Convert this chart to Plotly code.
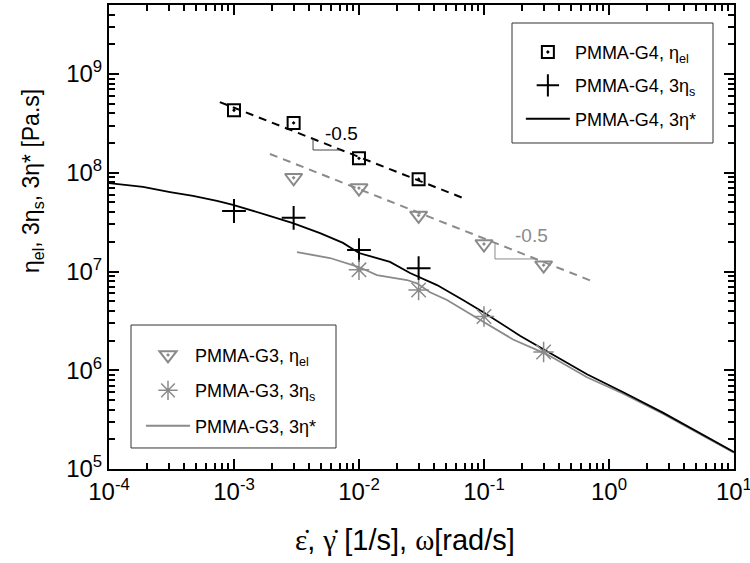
import math
import plotly.graph_objects as go

# ---------------- data ----------------
# PMMA-G4
g4_el_x = [1e-3, 3e-3, 1e-2, 3e-2]
g4_el_y = [4.3e8, 3.2e8, 1.4e8, 8.6e7]
g4_s_x = [1e-3, 3e-3, 1e-2, 3e-2]
g4_s_y = [4.1e7, 3.5e7, 1.65e7, 1.08e7]
g4_star_x = [1e-4, 1.87e-4, 3.08e-4, 4.7e-4, 7.31e-4, 9.82e-4, 1.84e-3, 2.96e-3, 4.88e-3,
             7.45e-3, 1e-2, 1.77e-2, 2.56e-2, 4.21e-2, 6.79e-2, 9.82e-2, 0.194, 0.302,
             0.667, 1.29, 2.7, 10]
g4_star_y = [7.87e7, 7.18e7, 6.38e7, 5.82e7, 5.18e7, 4.72e7, 3.73e7, 3.09e7, 2.45e7,
             1.95e7, 1.54e7, 1.25e7, 9.66e6, 7.29e6, 5.14e6, 3.89e6, 2.24e6, 1.62e6,
             9.12e5, 6.03e5, 3.72e5, 1.49e5]
g4_fit_x = [7.7e-4, 6.8e-2]
g4_fit_y = [5.2e8, 5.55e7]

# PMMA-G3
g3_el_x = [3e-3, 1e-2, 3e-2, 0.1, 0.3]
g3_el_y = [8.9e7, 7.0e7, 3.7e7, 1.9e7, 1.16e7]
g3_s_x = [1e-2, 3e-2, 0.1, 0.3]
g3_s_y = [1.04e7, 6.5e6, 3.5e6, 1.53e6]
g3_star_x = [3.19e-3, 5.86e-3, 1e-2, 1.39e-2, 2.42e-2, 2.91e-2, 3.7e-2, 5.06e-2, 8.79e-2,
             0.171, 0.319, 0.667, 1.29, 2.7, 10]
g3_star_y = [1.57e7, 1.37e7, 1.11e7, 9.2e6, 8.2e6, 7.59e6, 6.17e6, 5.14e6, 3.39e6,
             2.05e6, 1.45e6, 8.5e5, 5.82e5, 3.63e5, 1.46e5]
g3_fit_x = [1.94e-3, 0.73]
g3_fit_y = [1.55e8, 8.0e6]

# slope triangles and labels
slope_g4_x = [4.29e-3, 4.29e-3, 7.05e-3]
slope_g4_y = [2.2e8, 1.7e8, 1.7e8]
slope_g3_x = [0.1225, 0.1225, 0.265]
slope_g3_y = [1.94e7, 1.34e7, 1.34e7]
slope_label = "-0.5"
slope_g4_label_xy = (7.18e-3, 2.5e8)
slope_g3_label_xy = (0.238, 2.29e7)

# tick labels
x_tickvals = [1e-4, 1e-3, 1e-2, 1e-1, 1e0, 1e1]
x_ticktext = ["10<sup>-4</sup>", "10<sup>-3</sup>", "10<sup>-2</sup>", "10<sup>-1</sup>",
              "10<sup>0</sup>", "10<sup>1</sup>"]
y_tickvals = [1e5, 1e6, 1e7, 1e8, 1e9]
y_ticktext = ["10<sup>5</sup>", "10<sup>6</sup>", "10<sup>7</sup>", "10<sup>8</sup>",
              "10<sup>9</sup>"]

names = ["PMMA-G4, η<sub>el</sub>", "PMMA-G4, 3η<sub>s</sub>", "PMMA-G4, 3η*",
         "PMMA-G3, η<sub>el</sub>", "PMMA-G3, 3η<sub>s</sub>", "PMMA-G3, 3η*"]

GRAY = "#8a8a8a"
TICKC = "black"
FONT = "Liberation Sans, Arial, sans-serif"
SERIF = "Liberation Serif, Times New Roman, serif"

# minor tick positions (2..9 within each decade)
x_minor = [m * 10.0 ** k for k in range(-4, 1) for m in range(2, 10)]
y_minor = [m * 10.0 ** k for k in range(5, 10) for m in range(2, 10)]

fig = go.Figure()

fig.add_trace(go.Scatter(x=g4_fit_x, y=g4_fit_y, mode="lines", showlegend=False,
                         line=dict(color="black", width=2, dash="8px,6px")))
fig.add_trace(go.Scatter(x=g3_fit_x, y=g3_fit_y, mode="lines", showlegend=False,
                         line=dict(color=GRAY, width=2, dash="8px,6px")))
fig.add_trace(go.Scatter(x=slope_g4_x, y=slope_g4_y, mode="lines", showlegend=False,
                         line=dict(color="#444444", width=1)))
fig.add_trace(go.Scatter(x=slope_g3_x, y=slope_g3_y, mode="lines", showlegend=False,
                         line=dict(color=GRAY, width=1)))

fig.add_trace(go.Scatter(x=g3_star_x, y=g3_star_y, mode="lines", name=names[5],
                         legend="legend2", legendgroup="f", legendrank=3,
                         line=dict(color=GRAY, width=1.8)))
fig.add_trace(go.Scatter(x=g4_star_x, y=g4_star_y, mode="lines", name=names[2],
                         legend="legend", legendgroup="c", legendrank=3,
                         line=dict(color="black", width=1.8)))

fig.add_trace(go.Scatter(x=g4_el_x, y=g4_el_y, mode="markers", name=names[0],
                         legend="legend", legendgroup="a", legendrank=1,
                         marker=dict(symbol="square-open-dot", size=12, color="black",
                                     line=dict(width=2, color="black"))))
fig.add_trace(go.Scatter(x=g4_s_x, y=g4_s_y, mode="markers", name=names[1],
                         legend="legend", legendgroup="b", legendrank=2,
                         marker=dict(symbol="cross-thin", size=17, color="black",
                                     line=dict(width=2, color="black"))))
fig.add_trace(go.Scatter(x=g3_el_x, y=g3_el_y, mode="markers", name=names[3],
                         legend="legend2", legendgroup="d", legendrank=1,
                         marker=dict(symbol="triangle-down-open-dot", size=15, color=GRAY,
                                     line=dict(width=2, color=GRAY))))
fig.add_trace(go.Scatter(x=g3_s_x, y=g3_s_y, mode="markers", name=names[4],
                         legend="legend2", legendgroup="e", legendrank=2,
                         marker=dict(symbol="asterisk-open", size=17, color=GRAY,
                                     line=dict(width=1.5, color=GRAY))))

fig.add_annotation(x=math.log10(slope_g4_label_xy[0]), y=math.log10(slope_g4_label_xy[1]),
                   xref="x", yref="y", text=slope_label, showarrow=False,
                   font=dict(family=FONT, size=19, color="black"))
fig.add_annotation(x=math.log10(slope_g3_label_xy[0]), y=math.log10(slope_g3_label_xy[1]),
                   xref="x", yref="y", text=slope_label, showarrow=False,
                   font=dict(family=FONT, size=19, color=GRAY))

ytitle = "η<sub>el</sub>, 3η<sub>s</sub>, 3η* [Pa.s]"
xtitle = (f"<span style='font-family:{SERIF}'>ε̇</span>, "
          f"<span style='font-family:{SERIF}'>γ̇</span> [1/s], "
          f"<span style='font-family:{SERIF}'>ω</span>[rad/s]")

fig.add_annotation(xref="paper", yref="paper", x=-0.122, y=0.62, text=ytitle,
                   textangle=-90, showarrow=False, xanchor="center", yanchor="middle",
                   font=dict(family=FONT, size=23, color="black"))
fig.add_annotation(xref="paper", yref="paper", x=0.474, y=-0.153, text=xtitle,
                   showarrow=False, xanchor="center", yanchor="middle",
                   font=dict(family=FONT, size=29, color="black"))

fig.add_shape(type="rect", xref="paper", yref="paper", x0=0.6448, x1=0.9664,
              y0=0.7026, y1=0.9612, line=dict(color="#333333", width=1),
              fillcolor="white", layer="below")
fig.add_shape(type="rect", xref="paper", yref="paper", x0=0.0352, x1=0.3632,
              y0=0.0453, y1=0.3103, line=dict(color="#333333", width=1),
              fillcolor="white", layer="below")

axis_common = dict(type="log", showgrid=False, zeroline=False, showline=True,
                   linecolor="black", linewidth=2, mirror="ticks", ticks="inside",
                   ticklen=10, tickwidth=1.6, tickcolor=TICKC, automargin=False,
                   ticklabeloverflow="allow", layer="above traces",
                   tickfont=dict(family=FONT, size=24, color="black"))

fig.update_xaxes(**axis_common, range=[-4, 1.0004], tickmode="array",
                 tickvals=x_tickvals, ticktext=x_ticktext,
                 minor=dict(tickmode="array", tickvals=x_minor, ticks="inside",
                            ticklen=6, tickwidth=1.6, tickcolor=TICKC, showgrid=False))
fig.update_yaxes(**axis_common, range=[5, 9.699], tickmode="array",
                 tickvals=y_tickvals, ticktext=y_ticktext,
                 minor=dict(tickmode="array", tickvals=y_minor, ticks="inside",
                            ticklen=6, tickwidth=1.6, tickcolor=TICKC, showgrid=False))

fig.update_layout(
    width=750, height=563,
    margin=dict(l=109, r=16, t=5, b=94),
    paper_bgcolor="white", plot_bgcolor="white",
    font=dict(family=FONT, size=18, color="black"),
    legend=dict(x=0.659, y=0.938, xanchor="left", yanchor="top",
                bgcolor="rgba(0,0,0,0)", borderwidth=0, itemwidth=44,
                font=dict(family=FONT, size=18), tracegroupgap=7,
                traceorder="grouped"),
    legend2=dict(x=0.0512, y=0.285, xanchor="left", yanchor="top",
                 bgcolor="rgba(0,0,0,0)", borderwidth=0, itemwidth=44,
                 font=dict(family=FONT, size=18), tracegroupgap=9,
                 traceorder="grouped"),
)

fig.write_html("out.html")
